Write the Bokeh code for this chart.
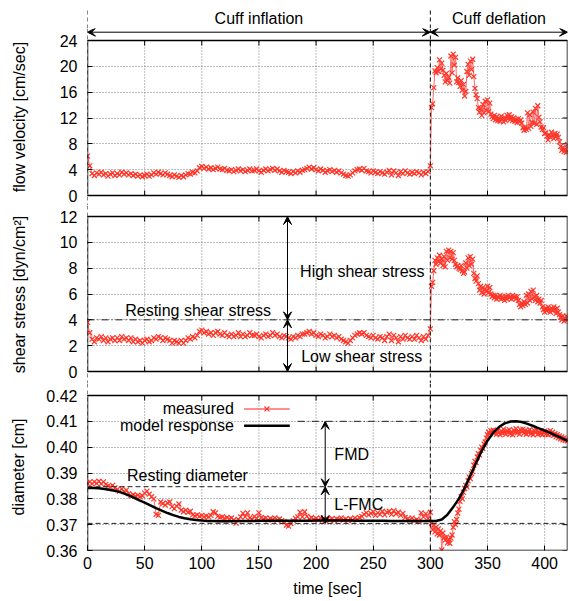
from bokeh.plotting import figure
from bokeh.layouts import column
from bokeh.models import Range1d, Span, Arrow, VeeHead, FixedTicker, NumeralTickFormatter, BoxAnnotation
from bokeh.embed import file_html
from bokeh.resources import INLINE
from bokeh.core.properties import value

# ---------------- data ----------------
phase_edges = [0, 300, 420]
phase_labels = ["Cuff inflation", "Cuff deflation"]

t_inflation = list(range(0, 301, 2))      # sampled every 2 s while the cuff is inflated
t_deflation = list(range(301, 421))       # sampled every 1 s after release

flow_inflation = [
    6.1, 4.6, 3.4, 3.1, 3.5, 3.3, 3.6, 3.2, 3.4, 3.0,
    3.3, 3.5, 3.1, 3.4, 3.2, 3.6, 3.3, 3.5, 3.2, 3.4,
    3.1, 3.3, 3.0, 3.2, 2.9, 3.1, 3.3, 3.0, 3.2, 3.5,
    3.3, 3.6, 3.4, 3.2, 3.5, 3.3, 3.1, 2.9, 3.2, 3.0,
    2.8, 3.1, 2.9, 3.2, 3.4, 3.3, 3.6, 3.5, 3.8, 4.3,
    4.5, 4.2, 4.4, 4.1, 4.3, 4.0, 4.2, 4.4, 4.1, 4.0,
    4.2, 3.9, 3.8, 4.0, 3.7, 3.9, 4.1, 3.8, 4.0, 3.7,
    3.9, 4.1, 3.8, 3.9, 4.1, 3.8, 3.6, 3.9, 4.1, 3.8,
    4.0, 4.2, 3.9, 4.1, 3.8, 3.6, 3.9, 3.7, 3.6, 3.4,
    3.7, 3.5, 3.8, 3.6, 3.9, 4.0, 4.2, 4.4, 4.1, 4.3,
    4.0, 3.8, 4.1, 3.9, 3.6, 3.8, 4.0, 3.7, 3.9, 3.6,
    3.8, 3.5, 3.3, 3.1, 3.0, 3.2, 3.5, 3.8, 4.0, 4.1,
    3.9, 4.2, 3.8, 3.7, 3.5, 3.8, 3.6, 3.4, 3.7, 3.5,
    3.3, 3.6, 3.9, 3.2, 3.8, 3.5, 3.1, 3.7, 3.4, 3.8,
    3.5, 3.3, 3.6, 3.4, 3.7, 3.5, 3.2, 3.6, 3.4, 3.7,
    4.6,
]
flow_deflation = [
    13.6, 14.2, 16.7, 19.3, 19.0, 19.8, 19.2, 21.0, 19.6, 20.5,
    19.4, 18.6, 17.6, 18.9, 17.8, 18.3, 17.4, 21.6, 19.0, 21.9,
    20.2, 21.4, 17.6, 18.2, 17.5, 16.9, 17.8, 16.3, 17.2, 15.4,
    16.1, 19.2, 20.3, 18.6, 20.8, 19.5, 21.1, 18.4, 16.6, 15.6,
    15.0, 13.6, 12.9, 13.5, 12.4, 14.1, 12.8, 14.6, 13.2, 14.8,
    13.0, 14.3, 12.6, 12.2, 11.9, 12.4, 11.7, 12.2, 11.6, 12.0,
    11.5, 12.3, 11.8, 11.4, 12.1, 11.6, 12.4, 11.9, 12.5, 11.8,
    12.2, 11.6, 12.0, 11.5, 11.8, 11.3, 11.9, 11.4, 11.7, 11.2,
    10.5, 10.1, 10.6, 10.2, 12.8, 10.4, 12.5, 10.7, 11.3, 12.9,
    11.2, 13.5, 11.0, 13.9, 12.1, 11.4, 10.6, 10.2, 10.5, 9.6,
    9.7, 9.2, 8.6, 9.4, 9.0, 9.8, 9.3, 8.8, 9.6, 9.1,
    9.5, 9.0, 8.3, 7.6, 7.0, 7.4, 6.8, 7.2, 6.7, 7.9,
]

shear_inflation = [
    3.8, 3.0, 2.5, 2.3, 2.6, 2.5, 2.7, 2.4, 2.6, 2.3,
    2.5, 2.6, 2.4, 2.6, 2.4, 2.7, 2.5, 2.6, 2.4, 2.6,
    2.3, 2.5, 2.3, 2.4, 2.2, 2.4, 2.5, 2.3, 2.4, 2.6,
    2.5, 2.7, 2.6, 2.4, 2.6, 2.5, 2.4, 2.2, 2.4, 2.3,
    2.2, 2.4, 2.2, 2.4, 2.6, 2.5, 2.7, 2.6, 2.8, 3.1,
    3.2, 3.0, 3.1, 2.9, 3.0, 2.8, 3.0, 3.1, 2.9, 2.8,
    3.0, 2.8, 2.7, 2.9, 2.7, 2.8, 3.0, 2.7, 2.9, 2.7,
    2.8, 3.0, 2.8, 2.8, 2.9, 2.7, 2.6, 2.8, 2.9, 2.7,
    2.8, 3.0, 2.8, 2.9, 2.7, 2.6, 2.8, 2.7, 2.6, 2.5,
    2.7, 2.6, 2.8, 2.7, 2.9, 2.9, 3.0, 3.1, 2.9, 3.0,
    2.8, 2.7, 2.9, 2.8, 2.6, 2.7, 2.9, 2.7, 2.8, 2.6,
    2.7, 2.5, 2.4, 2.3, 2.2, 2.4, 2.6, 2.8, 2.9, 3.0,
    2.9, 3.0, 2.8, 2.7, 2.6, 2.8, 2.6, 2.5, 2.7, 2.6,
    2.4, 2.7, 2.9, 2.4, 2.8, 2.6, 2.3, 2.7, 2.5, 2.8,
    2.6, 2.5, 2.7, 2.5, 2.8, 2.6, 2.4, 2.7, 2.5, 2.8,
    3.3,
]
shear_deflation = [
    6.6, 6.9, 7.8, 8.6, 8.3, 8.8, 8.5, 9.0, 8.4, 8.7,
    8.2, 8.9, 8.1, 9.3, 8.6, 9.4, 8.8, 9.3, 8.7, 9.2,
    8.6, 8.3, 8.1, 8.2, 8.0, 7.9, 8.2, 7.8, 7.6, 7.7,
    8.4, 8.0, 8.8, 8.2, 8.9, 8.3, 8.7, 7.6, 7.2, 7.0,
    7.4, 6.8, 6.3, 6.6, 6.1, 6.5, 6.0, 6.4, 6.2, 6.6,
    6.1, 6.5, 6.0, 5.8, 5.9, 5.7, 5.9, 5.6, 5.8, 5.7,
    5.9, 5.6, 5.8, 5.7, 5.5, 5.8, 5.6, 5.9, 5.7, 5.8,
    5.6, 5.9, 5.7, 5.8, 5.6, 5.8, 5.5, 5.2, 5.0, 5.3,
    5.1, 5.4, 5.2, 5.9, 5.3, 6.0, 5.5, 6.2, 5.6, 6.3,
    5.8, 5.5, 5.9, 5.4, 5.6, 5.3, 5.5, 5.0, 4.8, 4.6,
    4.9, 4.7, 5.0, 4.8, 4.6, 4.9, 4.7, 5.0, 4.8, 4.5,
    4.9, 4.6, 4.4, 4.2, 4.0, 4.3, 3.9, 4.1, 4.3, 4.0,
]

diam_inflation = [
    0.3860, 0.3866, 0.3858, 0.3866, 0.3860, 0.3868, 0.3858, 0.3866, 0.3856, 0.3850,
    0.3846, 0.3852, 0.3842, 0.3836, 0.3830, 0.3838, 0.3828, 0.3834, 0.3820, 0.3812,
    0.3816, 0.3810, 0.3814, 0.3808, 0.3812, 0.3822, 0.3830, 0.3818, 0.3808, 0.3800,
    0.3740, 0.3736, 0.3788, 0.3782, 0.3776, 0.3784, 0.3788, 0.3770, 0.3762, 0.3772,
    0.3780, 0.3756, 0.3750, 0.3756, 0.3748, 0.3752, 0.3738, 0.3734, 0.3738, 0.3732,
    0.3736, 0.3730, 0.3734, 0.3730, 0.3736, 0.3750, 0.3746, 0.3732, 0.3728, 0.3730,
    0.3724, 0.3728, 0.3722, 0.3726, 0.3718, 0.3706, 0.3720, 0.3730, 0.3744, 0.3730,
    0.3746, 0.3726, 0.3720, 0.3732, 0.3724, 0.3746, 0.3728, 0.3722, 0.3726, 0.3718,
    0.3724, 0.3720, 0.3726, 0.3718, 0.3722, 0.3716, 0.3712, 0.3698, 0.3694, 0.3704,
    0.3716, 0.3724, 0.3730, 0.3748, 0.3730, 0.3750, 0.3732, 0.3722, 0.3728, 0.3720,
    0.3724, 0.3718, 0.3726, 0.3720, 0.3716, 0.3722, 0.3718, 0.3724, 0.3716, 0.3722,
    0.3720, 0.3726, 0.3718, 0.3722, 0.3716, 0.3724, 0.3718, 0.3726, 0.3720, 0.3728,
    0.3732, 0.3740, 0.3746, 0.3738, 0.3744, 0.3750, 0.3736, 0.3746, 0.3740, 0.3752,
    0.3738, 0.3748, 0.3752, 0.3740, 0.3754, 0.3742, 0.3748, 0.3736, 0.3744, 0.3728,
    0.3722, 0.3718, 0.3726, 0.3716, 0.3720, 0.3714, 0.3746, 0.3730, 0.3742, 0.3724,
    0.3748,
]
diam_deflation = [
    0.3705, 0.3680, 0.3698, 0.3672, 0.3690, 0.3664, 0.3684, 0.3660, 0.3676, 0.3602,
    0.3668, 0.3650, 0.3640, 0.3652, 0.3630, 0.3644, 0.3628, 0.3648, 0.3660, 0.3690,
    0.3712, 0.3700, 0.3720, 0.3745, 0.3760, 0.3790, 0.3808, 0.3800, 0.3825, 0.3840,
    0.3852, 0.3846, 0.3870, 0.3884, 0.3878, 0.3898, 0.3905, 0.3930, 0.3945, 0.3940,
    0.3962, 0.3975, 0.3970, 0.3988, 0.4000, 0.3995, 0.4012, 0.4020, 0.4035, 0.4048,
    0.4058, 0.4052, 0.4064, 0.4058, 0.4066, 0.4054, 0.4062, 0.4050, 0.4066, 0.4058,
    0.4048, 0.4062, 0.4054, 0.4070, 0.4058, 0.4050, 0.4064, 0.4056, 0.4068, 0.4052,
    0.4060, 0.4048, 0.4066, 0.4058, 0.4072, 0.4056, 0.4062, 0.4050, 0.4068, 0.4060,
    0.4070, 0.4054, 0.4064, 0.4050, 0.4062, 0.4056, 0.4068, 0.4052, 0.4060, 0.4048,
    0.4064, 0.4056, 0.4066, 0.4050, 0.4060, 0.4052, 0.4064, 0.4048, 0.4058, 0.4062,
    0.4050, 0.4060, 0.4048, 0.4056, 0.4064, 0.4050, 0.4058, 0.4046, 0.4052, 0.4040,
    0.4048, 0.4036, 0.4044, 0.4032, 0.4040, 0.4028, 0.4036, 0.4026, 0.4032, 0.4024,
]

model_t = list(range(0, 421, 5))
model_diam = [
    0.3842, 0.3842, 0.3841, 0.3838, 0.3834, 0.3830, 0.3824, 0.3815, 0.3806, 0.3795,
    0.3785, 0.3775, 0.3764, 0.3754, 0.3745, 0.3737, 0.3730, 0.3725, 0.3721, 0.3718,
    0.3716, 0.3714, 0.3714, 0.3713, 0.3713, 0.3713, 0.3714, 0.3714, 0.3714, 0.3714,
    0.3715, 0.3715, 0.3715, 0.3715, 0.3715, 0.3715, 0.3715, 0.3715, 0.3715, 0.3715,
    0.3716, 0.3716, 0.3716, 0.3716, 0.3716, 0.3716, 0.3716, 0.3715, 0.3715, 0.3715,
    0.3715, 0.3715, 0.3715, 0.3714, 0.3714, 0.3714, 0.3714, 0.3714, 0.3714, 0.3714,
    0.3714, 0.3714, 0.3720, 0.3739, 0.3768, 0.3801, 0.3842, 0.3890, 0.3939, 0.3986,
    0.4025, 0.4056, 0.4078, 0.4092, 0.4099, 0.4100, 0.4097, 0.4090, 0.4082, 0.4073,
    0.4064, 0.4055, 0.4045, 0.4035, 0.4024,
]

resting_shear = 4.0
resting_diam = 0.3847
constricted_diam = 0.3705
dilated_diam = 0.4100

x_ticks = [0, 50, 100, 150, 200, 250, 300, 350, 400]
flow_ticks = [0, 4, 8, 12, 16, 20, 24]
shear_ticks = [0, 2, 4, 6, 8, 10, 12]
diam_ticks = [0.36, 0.37, 0.38, 0.39, 0.40, 0.41, 0.42]

t_all = t_inflation + t_deflation
flow_all = flow_inflation + flow_deflation
shear_all = shear_inflation + shear_deflation
diam_all = diam_inflation + diam_deflation

# ---------------- layout / styling ----------------
FONT = "Liberation Sans"
FS = "16px"
LEFT, RIGHT, FW, PH = 87, 2, 480, 155
HEADER_H = 28
TICK_PX = 5
RED_LINE = "#ff6a6a"
RED_MARK = "#ff3528"
GRID = "#7a7a7a"

xr = Range1d(phase_edges[0], phase_edges[-1])
x_per_px = (phase_edges[-1] - phase_edges[0]) / FW


def base(frame_h, y_range, xaxis=False, yaxis=False):
    p = figure(frame_width=FW, frame_height=frame_h, x_range=xr, y_range=y_range,
               x_axis_type="linear" if xaxis else None,
               y_axis_type="linear" if yaxis else None,
               min_border_left=LEFT, min_border_right=RIGHT,
               min_border_top=0, min_border_bottom=0,
               output_backend="svg", toolbar_location=None)
    p.outline_line_color = None
    p.background_fill_color = "white"
    p.border_fill_color = "white"
    return p


def separators(p):
    for e in phase_edges[:-1]:
        p.add_layout(Span(location=e, dimension="height", line_color="#111111",
                          line_dash="4 3", line_width=1))


def style_axis(ax):
    ax.axis_line_color = None
    ax.major_tick_in = TICK_PX
    ax.major_tick_out = 0
    ax.minor_tick_in = 0
    ax.minor_tick_out = 0
    ax.major_tick_line_color = "black"
    ax.major_label_text_font = FONT
    ax.major_label_text_font_size = FS
    ax.major_label_text_color = "black"
    ax.axis_label_text_font = FONT
    ax.axis_label_text_font_size = FS
    ax.axis_label_text_font_style = "normal"
    ax.axis_label_text_color = "black"


def panel(lo, hi, up_px, down_px, y_ticks, ylabel, label_standoff, xaxis=False):
    # frame = panel + part of the gap above/below, so the phase separators run through
    per_px = (hi - lo) / PH
    p = base(PH + up_px + down_px, Range1d(lo - down_px * per_px, hi + up_px * per_px),
             xaxis=xaxis, yaxis=True)
    separators(p)
    ax = p.yaxis[0]
    ax.ticker = FixedTicker(ticks=y_ticks)
    style_axis(ax)
    ax.major_label_standoff = 10
    ax.axis_label = ylabel
    ax.axis_label_standoff = label_standoff
    p.ygrid.ticker = FixedTicker(ticks=y_ticks)
    p.ygrid.grid_line_color = GRID
    p.ygrid.grid_line_dash = "1 2"
    if xaxis:
        xa = p.xaxis[0]
        xa.ticker = FixedTicker(ticks=x_ticks)
        style_axis(xa)
        p.xgrid.visible = False
    inner = x_ticks[1:]
    n = len(inner)
    # vertical grid restricted to the panel
    p.segment(x0=inner, y0=[lo] * n, x1=inner, y1=[hi] * n,
              line_color=GRID, line_dash="1 2", line_width=1)
    # gnuplot-style mirrored inward ticks (top, bottom, right)
    tick_y = TICK_PX * per_px
    p.segment(x0=inner, y0=[hi] * n, x1=inner, y1=[hi - tick_y] * n, line_color="black")
    if not xaxis:
        p.segment(x0=inner, y0=[lo] * n, x1=inner, y1=[lo + tick_y] * n, line_color="black")
    m = len(y_ticks)
    right = phase_edges[-1]
    p.segment(x0=[right] * m, y0=y_ticks, x1=[right - TICK_PX * x_per_px] * m, y1=y_ticks,
              line_color="black")
    p.add_layout(BoxAnnotation(left=phase_edges[0], right=right, bottom=lo, top=hi,
                               fill_alpha=0, line_color="black", line_width=1.5, line_alpha=1))
    return p


def measured(p, y):
    p.line(t_all, y, line_color=RED_LINE, line_width=1)
    p.scatter(t_all, y, marker="x", size=7, line_color=RED_MARK, line_width=1.2)


def vee():
    return VeeHead(size=8, line_color="black", fill_color="black", line_width=1)


def texts(p, xs, ys, labels, align="left"):
    p.text(x=xs, y=ys, text=labels, text_align=align, text_baseline="middle",
           text_font=value(FONT), text_font_size=FS, text_color="black")


# header strip with the phase labels
header = base(HEADER_H, Range1d(0, 1))
sep_top = (HEADER_H - 9) / HEADER_H
header.segment(x0=phase_edges[:-1], y0=[0] * 2, x1=phase_edges[:-1], y1=[sep_top] * 2,
               line_color="#111111", line_dash="4 3", line_width=1)
centres = [(a + b) / 2 for a, b in zip(phase_edges[:-1], phase_edges[1:])]
texts(header, centres, [(HEADER_H - 18.2) / HEADER_H] * len(centres), phase_labels, align="center")

# flow velocity (frame reaches up into the gap for the phase arrows)
p1 = panel(flow_ticks[0], flow_ticks[-1], 40 - HEADER_H, 10, flow_ticks, "flow velocity [cm/sec]", 29)
measured(p1, flow_all)
arrow_y = flow_ticks[-1] + 8.3 * (flow_ticks[-1] - flow_ticks[0]) / PH
for a, b in zip(phase_edges[:-1], phase_edges[1:]):
    p1.add_layout(Arrow(start=vee(), end=vee(), x_start=a, y_start=arrow_y,
                        x_end=b, y_end=arrow_y, line_width=1, line_color="black"))

# shear stress
p2 = panel(shear_ticks[0], shear_ticks[-1], 11, 12, shear_ticks, "shear stress [dyn/cm²]", 29)
p2.add_layout(Span(location=resting_shear, dimension="width", line_color="#222222",
                   line_dash="7 3 1 3", line_width=1))
measured(p2, shear_all)
for yend in (shear_ticks[-1], shear_ticks[0]):
    p2.add_layout(Arrow(start=vee(), end=vee(), x_start=175, y_start=resting_shear,
                        x_end=175, y_end=yend, line_width=1, line_color="black"))
texts(p2, [186, 33, 187], [7.75, 4.72, 1.2],
      ["High shear stress", "Resting shear stress", "Low shear stress"])

# diameter
p3 = panel(diam_ticks[0], diam_ticks[-1], 12, 0, diam_ticks, "diameter [cm]", 16, xaxis=True)
p3.yaxis[0].formatter = NumeralTickFormatter(format="0.00")
p3.xaxis[0].axis_label = "time [sec]"
p3.xaxis[0].major_label_standoff = 6
p3.xaxis[0].axis_label_standoff = 8
for lvl in (resting_diam, constricted_diam):
    p3.add_layout(Span(location=lvl, dimension="width", line_color="#222222",
                       line_dash="5 3", line_width=1))
p3.line([184, phase_edges[-1]], [dilated_diam, dilated_diam], line_color="#222222",
        line_dash="7 3 1 3", line_width=1)
measured(p3, diam_all)
p3.line(model_t, model_diam, line_color="black", line_width=2.5)
p3.add_layout(Arrow(start=vee(), end=vee(), x_start=208, y_start=resting_diam,
                    x_end=208, y_end=dilated_diam, line_width=1, line_color="black"))
p3.add_layout(Arrow(start=vee(), end=vee(), x_start=208, y_start=resting_diam,
                    x_end=208, y_end=constricted_diam, line_width=1, line_color="black"))
texts(p3, [34.5, 216, 216], [0.3890, 0.3972, 0.3777], ["Resting diameter", "FMD", "L-FMC"])
# legend (label left of sample, gnuplot style)
texts(p3, [128, 128], [0.4148, 0.4083], ["measured", "model response"], align="right")
p3.line([137, 177], [0.4148, 0.4148], line_color=RED_LINE, line_width=1.5)
p3.scatter([157], [0.4148], marker="x", size=7, line_color=RED_MARK, line_width=1.2)
p3.line([137, 177], [0.4083, 0.4083], line_color="black", line_width=2.5)

layout = column(header, p1, p2, p3, spacing=0)
open("out.html", "w").write(file_html(layout, INLINE))
